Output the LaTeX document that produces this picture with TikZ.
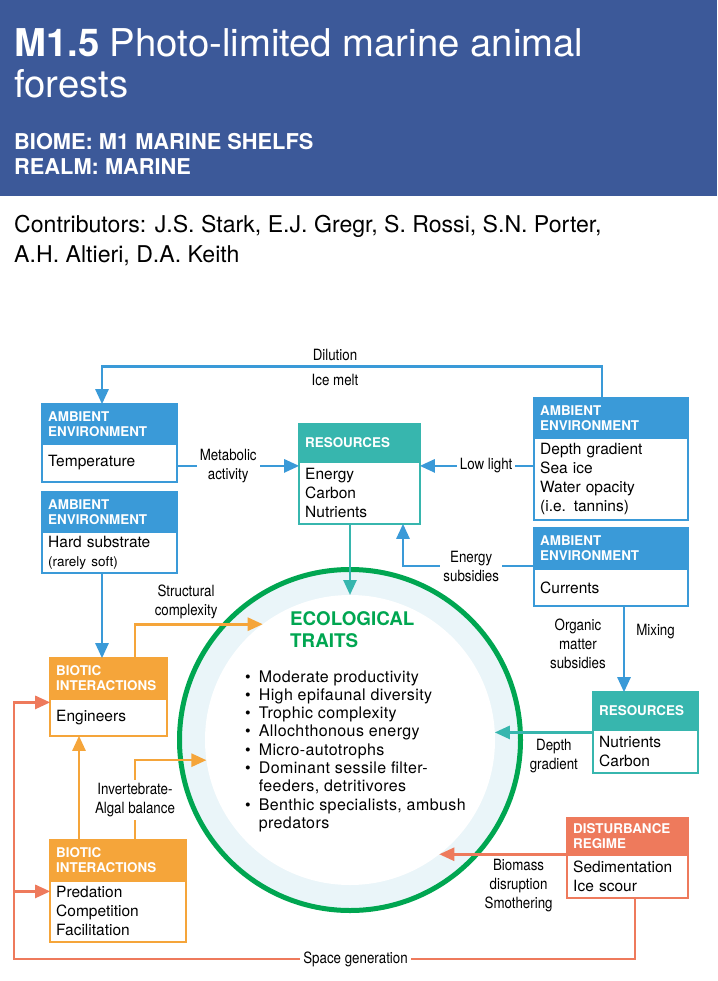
\documentclass[tikz,border=0pt]{standalone}
\usepackage{fontspec}
\setmainfont{TeX Gyre Heros}
\newfontfamily\condfont[FakeStretch=0.86]{TeX Gyre Heros}
\newfontfamily\traitfam[LetterSpace=2.5]{TeX Gyre Heros}
\usepackage{tikz}
\usetikzlibrary{arrows.meta}
\usetikzlibrary{positioning}

\definecolor{hdrblue}{RGB}{60,89,153}
\definecolor{envblue}{RGB}{58,154,216}
\definecolor{resteal}{RGB}{55,182,174}
\definecolor{bioorange}{RGB}{245,165,58}
\definecolor{disred}{RGB}{238,122,92}
\definecolor{ecogreen}{RGB}{0,166,81}
\definecolor{ringblue}{RGB}{234,245,249}

\newcommand{\titlefont}{\fontsize{38.3}{42}\selectfont}
\newcommand{\biomefont}{\fontsize{21.8}{25}\selectfont\bfseries}
\newcommand{\contribfont}{\fontsize{23.1}{30}\selectfont}
\newcommand{\boxhdfont}{\fontsize{13.4}{15}\selectfont\bfseries}
\newcommand{\boxtxfont}{\fontsize{15.5}{19}\selectfont}
\newcommand{\linkfont}{\condfont\fontsize{15.5}{19}\selectfont}
\newcommand{\ecotitlefont}{\fontsize{18.8}{22}\selectfont\bfseries}
\newcommand{\traitfont}{\traitfam\fontsize{16}{18.3}\selectfont}

\begin{document}
\begin{tikzpicture}
      [x=1pt,y=-1pt,
       head/.style={rectangle,draw=#1,fill=#1,text=white,font=\boxhdfont,line width=2.4pt,
         anchor=north west,align=left,inner xsep=6pt,inner ysep=0pt,outer sep=0pt},
       body/.style={rectangle,draw=#1,fill=white,font=\boxtxfont,line width=2.4pt,
         align=left,inner xsep=6pt,inner ysep=0pt,outer sep=0pt},
       link/.style={draw=#1,line width=2.6pt,-{Triangle[length=15pt,width=13pt]}},
       plain/.style={draw=#1,line width=2.6pt},
       lbl/.style={font=\linkfont,align=center,inner sep=3pt},
       gap/.style={lbl,fill=white}]
      \useasboundingbox (0,0) rectangle (717,981);
      % title band
      \fill[hdrblue] (0,0) rectangle (717,196);
      \node[anchor=base west,inner sep=0pt,text=white,font=\titlefont] (title) at (14,57)
        {\textbf{M1.5} Photo-limited marine animal};
      \node[anchor=base west,inner sep=0pt,text=white,font=\titlefont] (title2) at (14,98) {forests};
      \node[anchor=base west,inner sep=0pt,text=white,font=\biomefont] (biome) at (14,150) {BIOME: M1 MARINE SHELFS};
      \node[anchor=base west,inner sep=0pt,text=white,font=\biomefont] (realm) at (14,175) {REALM: MARINE};
      \node[anchor=base west,inner sep=0pt,font=\contribfont] (contrib) at (14,233)
        {Contributors: J.S. Stark, E.J. Gregr, S. Rossi, S.N. Porter,};
      \node[anchor=base west,inner sep=0pt,font=\contribfont] (contrib2) at (14,263) {A.H. Altieri, D.A. Keith};
      % ecological traits
      \node[circle,draw=ecogreen,line width=5pt,fill=ringblue,minimum size=341pt,inner sep=0pt] (ring) at (350,740) {};
      \node[circle,fill=white,minimum size=290pt,inner sep=0pt,outer sep=0pt] (eco) at (ring) {};
      \node[anchor=west,inner sep=0pt,align=left,font=\ecotitlefont,text=ecogreen] (ecot) at (290,630)
        {ECOLOGICAL\\TRAITS};
      \node[anchor=base west,inner sep=0pt,font=\traitfont] (traits) at (245,682)
        {\begin{tabular}[t]{@{}l@{\hspace{8pt}}l@{}}
          \textbullet & Moderate productivity\\
          \textbullet & High epifaunal diversity\\
          \textbullet & Trophic complexity\\
          \textbullet & Allochthonous energy\\
          \textbullet & Micro-autotrophs\\
          \textbullet & Dominant sessile filter-\\
                      & feeders, detritivores\\
          \textbullet & Benthic specialists, ambush\\
                      & predators
         \end{tabular}};
      % boxes
      \node[head=envblue,text width=122.6pt,minimum height=39.8pt] (temp-h) at (42.2,404.2) {AMBIENT\\ENVIRONMENT};
      \node[body=envblue,text width=122.6pt,minimum height=37.8pt,below=0pt of temp-h] (temp) {Temperature};
      \node[head=envblue,text width=122.6pt,minimum height=39.8pt] (hard-h) at (42.2,492.2) {AMBIENT\\ENVIRONMENT};
      \node[body=envblue,text width=122.6pt,minimum height=40.8pt,below=0pt of hard-h] (hard)
        {Hard substrate\\{\fontsize{13.5}{17}\selectfont (rarely soft)}};
      \node[head=resteal,text width=108.6pt,minimum height=37.8pt] (res1-h) at (299.2,424.2) {RESOURCES};
      \node[body=resteal,text width=108.6pt,minimum height=61.8pt,below=0pt of res1-h] (res1) {Energy\\Carbon\\Nutrients};
      \node[head=envblue,text width=141.6pt,minimum height=39.8pt] (depth-h) at (534.2,398.2) {AMBIENT\\ENVIRONMENT};
      \node[body=envblue,text width=141.6pt,minimum height=81.8pt,below=0pt of depth-h] (depth)
        {Depth gradient\\Sea ice\\Water opacity\\(i.e. tannins)};
      \node[head=envblue,text width=141.6pt,minimum height=40.8pt] (curr-h) at (534.2,528.2) {AMBIENT\\ENVIRONMENT};
      \node[body=envblue,text width=141.6pt,minimum height=36.8pt,below=0pt of curr-h] (curr) {Currents};
      \node[head=bioorange,text width=104.6pt,minimum height=40.8pt] (eng-h) at (50.2,658.2) {BIOTIC\\INTERACTIONS};
      \node[body=bioorange,text width=104.6pt,minimum height=36.8pt,below=0pt of eng-h] (eng) {Engineers};
      \node[head=bioorange,text width=123.6pt,minimum height=40.8pt] (pred-h) at (50.2,840.2) {BIOTIC\\INTERACTIONS};
      \node[body=bioorange,text width=123.6pt,minimum height=60.8pt,below=0pt of pred-h] (pred)
        {Predation\\Competition\\Facilitation};
      \node[head=resteal,text width=92.6pt,minimum height=37.8pt] (res2-h) at (593.2,692.2) {RESOURCES};
      \node[body=resteal,text width=92.6pt,minimum height=42.8pt,below=0pt of res2-h] (res2) {Nutrients\\Carbon};
      \node[head=disred,text width=108.6pt,minimum height=36.8pt] (dist-h) at (567.2,818.2) {DISTURBANCE\\REGIME};
      \node[body=disred,text width=108.6pt,minimum height=42.8pt,below=0pt of dist-h] (dist) {Sedimentation\\Ice scour};
      % connector ends
      \coordinate (dil) at ([xshift=-9pt]depth-h.north);
      \coordinate (ml) at ([yshift=-3pt]temp.east);
      \coordinate (hs) at ([xshift=-7.5pt]hard.south);
      \coordinate (sc) at ([xshift=26.5pt]eng-h.north);
      \coordinate (ia) at ([xshift=17pt]pred-h.north);
      \coordinate (pe) at ([xshift=-39pt]pred-h.north);
      \coordinate (mx) at ([xshift=13pt]curr.south);
      \coordinate (dg) at ([xshift=7.5pt]dist.south);
      \coordinate (sg) at (14,959);
      \coordinate (ew) at ([yshift=15pt]eng.west);
      \coordinate (pw) at ([yshift=20pt]pred.west);
      % add edges
      \draw[link=envblue] (dil) -- ++(0,-32) -| node[lbl,above=1pt,pos=0.267] {Dilution}
        node[lbl,below=4pt,pos=0.267] {Ice melt} ([xshift=-7.5pt]temp-h.north);
      \draw[link=envblue] (ml) -- node[gap,pos=0.42] {Metabolic\\activity} (ml -| res1.west);
      \draw[link=envblue] (depth.west |- ml) -- node[gap,pos=0.42] {Low light} (ml -| res1.east);
      \draw[link=envblue] ([yshift=3pt]curr-h.south west) -| node[gap,pos=0.24] {Energy\\subsidies}
        ([xshift=43.5pt]res1.south);
      \draw[link=resteal] (res1.south -| eco.north) -- (eco.north);
      \draw[link=envblue] (hs) -- (hs |- eng-h.north);
      \draw[link=bioorange] (sc) |- node[lbl,above=1pt,pos=0.7] {Structural\\complexity} (eco.127);
      \draw[link=bioorange] (pe) -- (pe |- eng.south);
      \draw[link=bioorange] (ia) |- node[gap,pos=0.253] {Invertebrate-\\Algal balance} (eco.188);
      \draw[link=envblue] (mx) -- node[lbl,left=14pt,pos=0.44] {Organic\\matter\\subsidies}
        node[lbl,right=8pt,pos=0.3] {Mixing} (mx |- res2-h.north);
      \draw[link=resteal] (res2.west |- eco.3) -- node[lbl,below=2pt,pos=0.4] {Depth\\gradient} (eco.3);
      \draw[link=disred] (dist.west |- eco.-52) -- node[lbl,below=1pt,pos=0.38] {Biomass\\disruption\\Smothering} (eco.-52);
      \draw[link=disred] (dg) |- node[gap,pos=0.725] {Space generation} (sg) |- (ew);
      \draw[link=disred] (sg |- pw) -- (pw);
\end{tikzpicture}
\end{document}
